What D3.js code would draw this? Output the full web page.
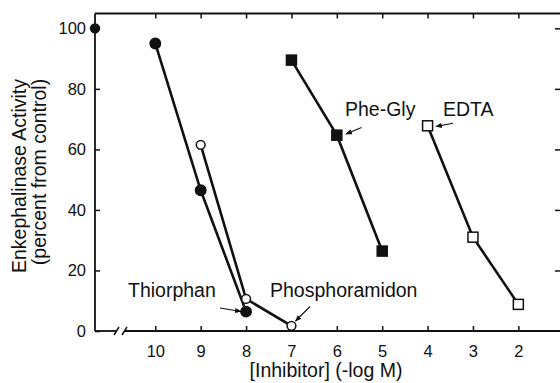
<!DOCTYPE html>
<html><head><meta charset="utf-8">
<script src="https://cdn.jsdelivr.net/npm/d3@7"></script>
<style>
html,body{margin:0;padding:0;background:#fff;}
svg{display:block;}
text{font-family:"Liberation Sans",Arial,Helvetica,sans-serif;fill:#111;}
</style></head>
<body>
<svg id="chart" width="560" height="383"></svg>
<script>
// ---- data ----
const xTicks = [10, 9, 8, 7, 6, 5, 4, 3, 2];
const yTicks = [0, 20, 40, 60, 80, 100];
const controlValue = 100;
const thiorphanX = [10, 9, 8];
const thiorphanY = [95, 46.5, 6.4];
const phosphoramidonX = [9, 8, 7];
const phosphoramidonY = [61.5, 10.6, 1.7];
const pheGlyX = [7, 6, 5];
const pheGlyY = [89.5, 64.7, 26.4];
const edtaX = [4, 3, 2];
const edtaY = [67.8, 31.0, 8.8];
const xTitle = "[Inhibitor] (-log M)";
const yTitle1 = "Enkephalinase Activity";
const yTitle2 = "(percent from control)";

// ---- layout ----
const L = 95, R = 561, T = 13.5, B = 331;
const svg = d3.select("#chart");
const x = d3.scaleLinear().domain([11.329, 1.06]).range([L, R]);
const y = d3.scaleLinear().domain([0, 104.9]).range([B, T]);

const ink = "#111";

// frame lines
const frame = svg.append("g").attr("stroke", ink).attr("stroke-width", 1.8).attr("fill", "none");
frame.append("line").attr("x1", L).attr("x2", L).attr("y1", T).attr("y2", B);
frame.append("line").attr("x1", L).attr("x2", R).attr("y1", T).attr("y2", T);
frame.append("line").attr("x1", R).attr("x2", R).attr("y1", T).attr("y2", B);
// bottom axis with break
frame.append("line").attr("x1", L).attr("x2", 116).attr("y1", B).attr("y2", B);
frame.append("line").attr("x1", 124).attr("x2", R).attr("y1", B).attr("y2", B);
svg.append("g").attr("stroke", ink).attr("stroke-width", 1.5)
  .selectAll("line").data([114, 122]).join("line")
  .attr("x1", d => d).attr("x2", d => d + 5)
  .attr("y1", B + 4).attr("y2", B - 4);

// bottom axis ticks (inward) + labels
const bottomAxis = d3.axisBottom(x).tickValues(xTicks).tickSize(-5).tickPadding(14).tickFormat(d3.format("d"));
const gB = svg.append("g").attr("transform", `translate(0,${B})`).call(bottomAxis);
gB.select(".domain").remove();
gB.selectAll(".tick line").attr("stroke", ink).attr("stroke-width", 1.5);
gB.selectAll(".tick text").attr("font-size", 16.5).attr("fill", ink)
  .attr("font-family", '"Liberation Sans",Arial,sans-serif');

// top ticks
const gT = svg.append("g").attr("transform", `translate(0,${T})`).call(d3.axisTop(x).tickValues(xTicks).tickSize(-5).tickFormat(""));
gT.select(".domain").remove();
gT.selectAll(".tick line").attr("stroke", ink).attr("stroke-width", 1.5);

// left axis
const gL = svg.append("g").attr("transform", `translate(${L},0)`)
  .call(d3.axisLeft(y).tickValues(yTicks).tickSize(-5).tickPadding(9));
gL.select(".domain").remove();
gL.selectAll(".tick line").attr("stroke", ink).attr("stroke-width", 1.5);
gL.selectAll(".tick text").attr("font-size", 16.5).attr("fill", ink)
  .attr("font-family", '"Liberation Sans",Arial,sans-serif');

// right ticks
const gR = svg.append("g").attr("transform", `translate(${R},0)`)
  .call(d3.axisRight(y).tickValues(yTicks.slice(1)).tickSize(-6).tickFormat(""));
gR.select(".domain").remove();
gR.selectAll(".tick line").attr("stroke", ink).attr("stroke-width", 1.5);

// axis titles
svg.append("text").attr("x", 326).attr("y", 377).attr("text-anchor", "middle")
  .attr("font-size", 19.5).text(xTitle);
svg.append("text").attr("transform", "translate(26,176) rotate(-90)").attr("text-anchor", "middle")
  .attr("font-size", 19.5).text(yTitle1);
svg.append("text").attr("transform", "translate(46,172) rotate(-90)").attr("text-anchor", "middle")
  .attr("font-size", 19.5).text(yTitle2);

// series lines
const line = d3.line().x(d => x(d[0])).y(d => y(d[1]));
const series = [
  {xs: thiorphanX, ys: thiorphanY, shape: "circle", fill: ink},
  {xs: phosphoramidonX, ys: phosphoramidonY, shape: "circle", fill: "#fff"},
  {xs: pheGlyX, ys: pheGlyY, shape: "square", fill: ink},
  {xs: edtaX, ys: edtaY, shape: "square", fill: "#fff"}
];
series.forEach(s => {
  const pts = s.xs.map((v, i) => [v, s.ys[i]]);
  svg.append("path").datum(pts).attr("d", line)
    .attr("fill", "none").attr("stroke", ink).attr("stroke-width", 2.6);
});
series.forEach(s => {
  const pts = s.xs.map((v, i) => [v, s.ys[i]]);
  const g = svg.append("g");
  if (s.shape === "circle") {
    g.selectAll("circle").data(pts).join("circle")
      .attr("cx", d => x(d[0])).attr("cy", d => y(d[1]))
      .attr("r", s.fill === ink ? 5.2 : 4.4)
      .attr("fill", s.fill).attr("stroke", ink).attr("stroke-width", 1.5);
  } else {
    g.selectAll("rect").data(pts).join("rect")
      .attr("x", d => x(d[0]) - 5).attr("y", d => y(d[1]) - 5)
      .attr("width", 10).attr("height", 10)
      .attr("fill", s.fill).attr("stroke", ink).attr("stroke-width", 1.5);
  }
});
// control point on the left axis
svg.append("circle").attr("cx", x(x.domain()[0])).attr("cy", y(controlValue)).attr("r", 5.2)
  .attr("fill", ink);

// annotations
const defs = svg.append("defs");
defs.append("marker").attr("id", "ah").attr("viewBox", "0 0 10 10").attr("refX", 9).attr("refY", 5)
  .attr("markerWidth", 6).attr("markerHeight", 6).attr("orient", "auto-start-reverse")
  .append("path").attr("d", "M0,1 L10,5 L0,9 Z").attr("fill", ink);

const labels = [
  {text: "Thiorphan", tx: 128, ty: 296.5, from: [220, 308], to: [241, 311.5]},
  {text: "Phosphoramidon", tx: 270, ty: 296.5, from: [310, 306.5], to: [295.5, 321]},
  {text: "Phe-Gly", tx: 345, ty: 116, from: [361.5, 127.5], to: [346, 134]},
  {text: "EDTA", tx: 443, ty: 116, from: [453, 123.3], to: [436, 126.5]}
];
labels.forEach(a => {
  svg.append("text").attr("x", a.tx).attr("y", a.ty).attr("font-size", 19.5).text(a.text);
  svg.append("line").attr("x1", a.from[0]).attr("y1", a.from[1]).attr("x2", a.to[0]).attr("y2", a.to[1])
    .attr("stroke", ink).attr("stroke-width", 1.1).attr("marker-end", "url(#ah)");
});
</script>
</body></html>
